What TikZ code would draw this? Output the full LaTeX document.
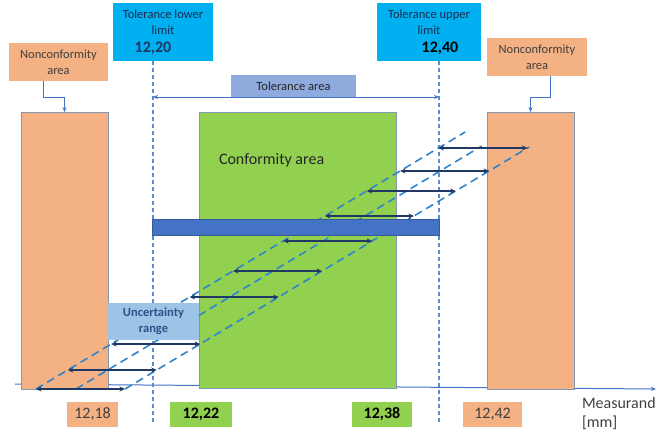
\documentclass[tikz,border=0pt]{standalone}
\usepackage{fontspec}
\setmainfont{Carlito}
\usetikzlibrary{positioning,arrows.meta}

\definecolor{ncorange}{HTML}{F4B183}
\definecolor{okgreen}{HTML}{92D050}
\definecolor{limcyan}{HTML}{00B0F0}
\definecolor{tolblue}{HTML}{8FAADC}
\definecolor{unclight}{HTML}{9DC3E6}
\definecolor{accblue}{HTML}{4472C4}
\definecolor{limblue}{HTML}{5B8BD6}
\definecolor{diagblue}{HTML}{2F84CC}
\definecolor{navy}{HTML}{1F3864}
\definecolor{edgegray}{HTML}{8497B0}
\definecolor{txtgray}{HTML}{404040}

\begin{document}
\begin{tikzpicture}[x=1pt, y=-1pt,
	every node/.style={inner sep=0pt, outer sep=0pt},
	area/.style={draw=edgegray, line width=0.8pt, anchor=north west},
	lab/.style={font=\fontsize{12.5}{16}\selectfont, text=txtgray, align=center},
	val/.style={font=\fontsize{16}{19}\selectfont, minimum height=25pt},
	limline/.style={draw=limblue, line width=1.3pt, dash pattern=on 4pt off 3pt},
	diag/.style={draw=diagblue, line width=1.6pt, dash pattern=on 8pt off 5pt},
	urange/.style={draw=navy, line width=1.3pt, {Stealth[length=5.5pt,width=5pt]}-{Stealth[length=5.5pt,width=5pt]}},
	>={Stealth[length=5pt,width=4pt]}]

	\useasboundingbox (0,0) rectangle (665,434);

	% axis
	\coordinate (axL) at (15,384);
	\coordinate (axR) at (656,389);
	\draw[->, accblue, line width=1pt] (axL) -- (axR);

	% areas
	\node[area, fill=ncorange, minimum width=87pt, minimum height=277pt] (ncL) at (21,112) {};
	\node[area, fill=ncorange, minimum width=87pt, minimum height=277pt] (ncR) at (487,112) {};
	\node[area, fill=okgreen, minimum width=197pt, minimum height=276pt] (conf) at (199,112) {};
	\node[font=\fontsize{16}{19}\selectfont, text=black!85, anchor=west] (confTxt) at (219,160) {Conformity area};

	% limits
	\node[fill=limcyan, minimum width=100pt, minimum height=58pt, anchor=north west] (tolLo) at (113,3) {};
	\node[lab, text=navy!80!black, below=7pt of tolLo.north] (tolLoTxt) {Tolerance lower\\limit};
	\node[font=\fontsize{16}{19}\selectfont\bfseries, text=navy] (valLo) at (153,48) {12,20};
	\node[fill=limcyan, minimum width=104pt, minimum height=58pt, anchor=north west] (tolUp) at (377,3) {};
	\node[lab, text=navy!80!black, below=7pt of tolUp.north] (tolUpTxt) {Tolerance upper\\limit};
	\node[font=\fontsize{16}{19}\selectfont\bfseries, text=black] (valUp) at (440,48) {12,40};

	\coordinate (loTop) at (153,61);
	\coordinate (loBot) at (153,422);
	\coordinate (upTop) at (439,61);
	\coordinate (upBot) at (439,424);
	\draw[limline] (loTop) -- (loBot);
	\draw[limline] (upTop) -- (upBot);

	% tolerance area
	\node[lab, fill=tolblue, text=black!85, minimum width=125pt, minimum height=22pt] (tolArea) at (293.5,86) {Tolerance area};
	\draw[<->, accblue, line width=0.9pt] (loTop |- tolArea.south) -- (upTop |- tolArea.south);

	% nonconformity labels
	\node[lab, fill=ncorange, minimum width=99pt, minimum height=38pt] (ncLlab) at (58.5,62) {Nonconformity\\area};
	\node[lab, fill=ncorange, minimum width=100pt, minimum height=38pt] (ncRlab) at (537,57) {Nonconformity\\area};
	\draw[->, accblue, line width=0.7pt] ([xshift=-15.5pt]ncLlab.south) -- ++(0,16) -| (ncL.north);
	\draw[->, accblue, line width=0.7pt] ([xshift=13pt]ncRlab.south) -- ++(0,21) -| (ncR.north);

	% dashed bands
	\foreach \off/\ytop [count=\k] in {0/132, 40/146, 89/147} {
		\coordinate (dB\k) at ({36+\off},389);
		\coordinate (dT\k) at ({36+\off+(389-\ytop)*1.67},\ytop);
		\draw[diag] (dB\k) -- (dT\k);
	}

	% uncertainty intervals
	\foreach \y [count=\i] in {389,370,344,297,271,241,216,191,171,148} {
		\pgfmathsetmacro\xl{36+(389-\y)*1.67}
		\coordinate (uL\i) at (\xl,\y);
		\coordinate (uR\i) at (\xl+89,\y);
		\draw[urange] (uL\i) -- (uR\i);
	}

	% bar
	\node[fill=accblue, draw=accblue!80!black, line width=0.5pt, minimum width=287pt, minimum height=16pt, anchor=north west] (bar) at (152,219) {};

	\node[lab, fill=unclight, text=accblue!70!black, font=\fontsize{12.5}{16}\selectfont\bfseries, minimum width=91pt, minimum height=37pt] (unc) at (153.5,321.5) {Uncertainty\\range};

	% values
	\node[val, fill=ncorange, text=txtgray, minimum width=51pt] (v1218) at (92.5,414.5) {12,18};
	\node[val, fill=okgreen, font=\fontsize{16}{19}\selectfont\bfseries, minimum width=62pt] (v1222) at (201,414.5) {12,22};
	\node[val, fill=okgreen, font=\fontsize{16}{19}\selectfont\bfseries, minimum width=60pt] (v1238) at (382,414.5) {12,38};
	\node[val, fill=ncorange, text=txtgray, minimum width=59pt] (v1242) at (492.5,414) {12,42};

	\node[anchor=north west, align=left, font=\fontsize{16}{19}\selectfont, text=txtgray] (meas) at (582,397) {Measurand\\{[mm]}};
\end{tikzpicture}
\end{document}
